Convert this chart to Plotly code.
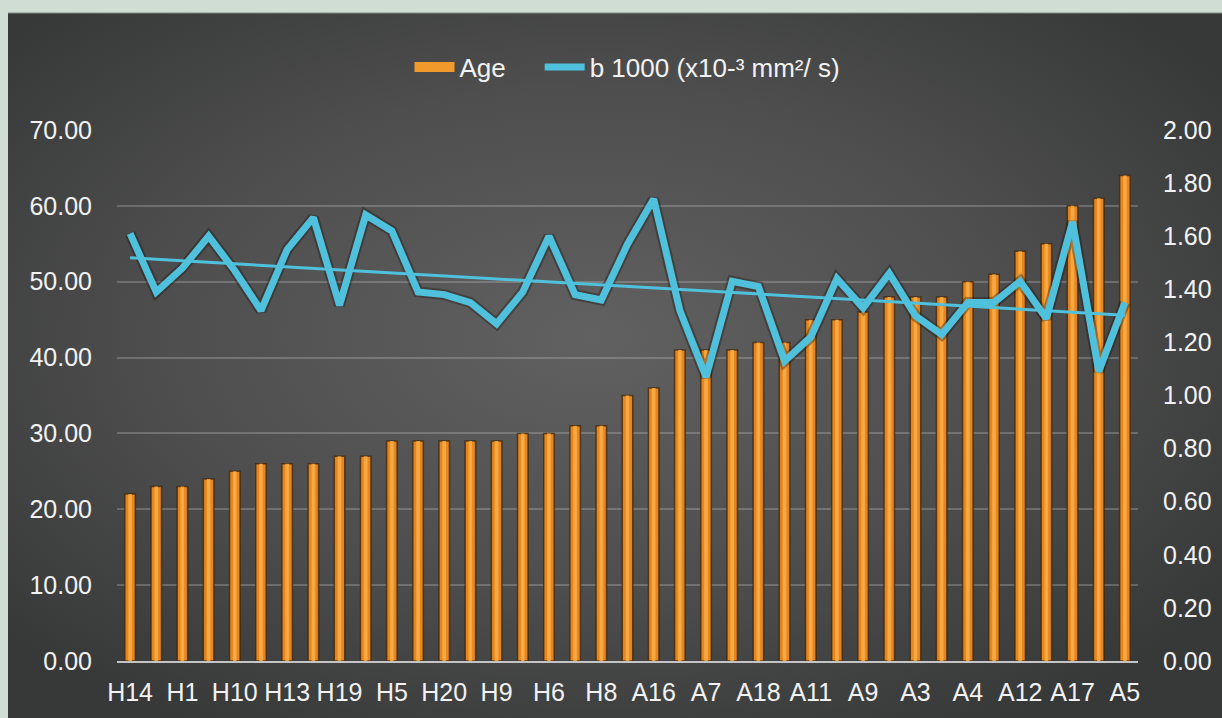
import base64

import numpy as np
import plotly.graph_objects as go

# Subjects in age order; only every other category name is printed on the axis
tick_labels = ["H14", "H1", "H10", "H13", "H19", "H5", "H20", "H9", "H6", "H8",
               "A16", "A7", "A18", "A11", "A9", "A3", "A4", "A12", "A17", "A5"]

# Age (years), left axis
age = [22, 23, 23, 24, 25, 26, 26, 26, 27, 27,
       29, 29, 29, 29, 29, 30, 30, 31, 31, 35,
       36, 41, 41, 41, 42, 42, 45, 45, 46, 48,
       48, 48, 50, 51, 54, 55, 60, 61, 64]

# ADC at b = 1000 (x10^-3 mm^2/s), right axis
b1000 = [1.61, 1.39, 1.48, 1.60, 1.47, 1.32, 1.55, 1.67, 1.34, 1.68,
         1.62, 1.39, 1.38, 1.35, 1.27, 1.39, 1.60, 1.38, 1.36, 1.57,
         1.74, 1.32, 1.07, 1.43, 1.41, 1.13, 1.22, 1.44, 1.33, 1.46,
         1.30, 1.23, 1.35, 1.35, 1.43, 1.29, 1.655, 1.09, 1.35]

idx = np.arange(len(age))
tick_pos = idx[::2]

# Linear trend of the b1000 series
slope, intercept = np.polyfit(idx, b1000, 1)
trend_x = [idx[0], idx[-1]]
trend_y = [intercept + slope * v for v in trend_x]

BAR_ORANGE = "#e5871e"
BAR_LIGHT = "#fbb04a"
LINE_BLUE = "#4fc1dc"
TEXT = "#f2f2f2"
FONT = "Liberation Sans, Arial, sans-serif"
GAP = "\u00a0" * 4  # extra room between the two legend entries

# Radial-shaded dark panel used as the chart background
svg = """<svg xmlns='http://www.w3.org/2000/svg' width='1214' height='705' viewBox='0 0 1214 705' preserveAspectRatio='none'>
<defs><radialGradient id='g' cx='0.48' cy='0.46' r='0.64' fx='0.48' fy='0.46'>
<stop offset='0' stop-color='#616161'/>
<stop offset='0.55' stop-color='#4e4e4e'/>
<stop offset='1' stop-color='#373838'/>
</radialGradient></defs>
<rect width='1214' height='705' fill='url(#g)'/>
</svg>"""
bg_src = "data:image/svg+xml;base64," + base64.b64encode(svg.encode()).decode()

fig = go.Figure()

# legend key for the bars: a wide orange swatch
fig.add_trace(go.Scatter(
    x=[None], y=[None], mode="lines", name="Age" + GAP,
    line=dict(color="#f09a2c", width=12), yaxis="y",
))

fig.add_trace(go.Bar(
    x=idx, y=age, name="Age", width=0.4, showlegend=False,
    marker=dict(color=BAR_ORANGE, line=dict(color="rgba(60,35,10,0.75)", width=1.5)),
    yaxis="y",
))
# central highlight strip on each bar
fig.add_trace(go.Bar(
    x=idx, y=age, width=0.14, showlegend=False, hoverinfo="skip",
    marker=dict(color=BAR_LIGHT, line=dict(width=0), opacity=0.8),
    yaxis="y",
))

# soft dark halo under the line
fig.add_trace(go.Scatter(
    x=idx, y=b1000, mode="lines", showlegend=False, hoverinfo="skip",
    line=dict(color="rgba(25,15,10,0.35)", width=11), yaxis="y2",
))
fig.add_trace(go.Scatter(
    x=idx, y=b1000, mode="lines", name="b 1000 (x10-³ mm²/ s)",
    line=dict(color=LINE_BLUE, width=7), yaxis="y2",
))
fig.add_trace(go.Scatter(
    x=trend_x, y=trend_y, mode="lines", showlegend=False, hoverinfo="skip",
    line=dict(color=LINE_BLUE, width=3), yaxis="y2",
))

L, R, T, B = 117, 84, 130, 57
W, H = 1222, 718
pw, ph = W - L - R, H - T - B

fig.update_layout(
    width=W, height=H,
    margin=dict(l=L, r=R, t=T, b=B, pad=0),
    paper_bgcolor="#cfddd5",
    plot_bgcolor="rgba(0,0,0,0)",
    barmode="overlay",
    font=dict(family=FONT, size=25, color=TEXT),
    showlegend=True,
    legend=dict(
        orientation="h", x=0.5, xanchor="center", y=(H - B - 67) / ph, yanchor="middle",
        font=dict(size=26, color=TEXT), bgcolor="rgba(0,0,0,0)",
        itemwidth=40, tracegroupgap=0,
    ),
    xaxis=dict(
        range=[-0.5, len(age) - 0.5],
        tickmode="array", tickvals=tick_pos, ticktext=tick_labels,
        showgrid=False, zeroline=False,
        showline=True, linecolor="#c4c4c4", linewidth=2,
        ticks="", ticklabelstandoff=8, automargin=False,
        tickfont=dict(size=25, color=TEXT),
    ),
    yaxis=dict(
        range=[0, 70], dtick=10, tickformat=".2f",
        showgrid=True, gridcolor="rgba(190,190,190,0.32)", gridwidth=2,
        zeroline=False, showline=False, ticks="", ticklabelstandoff=24,
        automargin=False, tickfont=dict(size=25, color=TEXT),
    ),
    yaxis2=dict(
        range=[0, 2], dtick=0.2, tickformat=".2f", overlaying="y", side="right",
        showgrid=False, zeroline=False, showline=False, ticks="", ticklabelstandoff=24,
        automargin=False, tickfont=dict(size=25, color=TEXT),
    ),
    images=[dict(
        source=bg_src, xref="paper", yref="paper",
        x=(8 - L) / pw, y=(H - B - 13) / ph,
        sizex=(W - 8) / pw, sizey=(H - 13) / ph,
        xanchor="left", yanchor="top", sizing="stretch", layer="below",
    )],
    shapes=[dict(
        type="line", xref="paper", yref="paper",
        x0=(8 - L) / pw, x1=(W - L) / pw,
        y0=(H - B - 13) / ph, y1=(H - B - 13) / ph,
        line=dict(color="#7e8984", width=1),
    )],
)

fig.write_html("out.html")
